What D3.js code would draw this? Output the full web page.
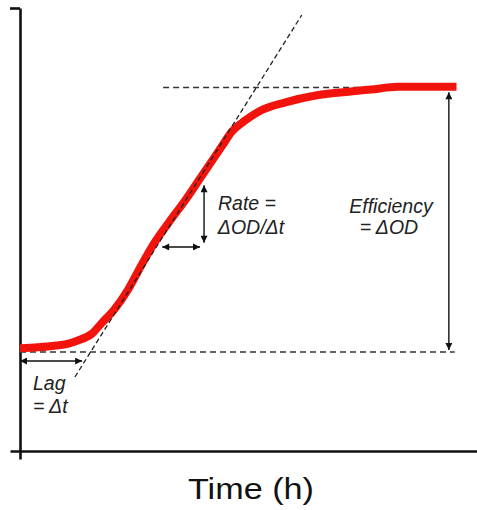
<!DOCTYPE html>
<html>
<head>
<meta charset="utf-8">
<script src="https://cdn.jsdelivr.net/npm/d3@7"></script>
<style>
  body { margin: 0; background: #fff; }
  svg { display: block; font-family: "Liberation Sans", Arial, sans-serif; }
</style>
</head>
<body>
<div id="chart"></div>
<script>
// growth curve (time in h, OD in arbitrary units)
const time = [0, 2, 4, 5.5, 6.5, 8, 9, 10.5, 12, 13.5, 15, 16.5, 18.5, 20, 21.5, 22.5, 23.5, 25, 26.5, 29.5, 33, 37, 39, 42, 48.5];
const od = [0.232, 0.234, 0.238, 0.243, 0.25, 0.265, 0.287, 0.32, 0.364, 0.42, 0.472, 0.515, 0.57, 0.615, 0.66, 0.69, 0.72, 0.746, 0.766, 0.787, 0.803, 0.812, 0.816, 0.822, 0.822];

// guide lines
const baseOD = 0.2235;
const plateauOD = 0.8205;
const plateauStart = 15.9;
const guideEnd = 48.3;
const tangentT = [6.1, 31.3];
const tangentOD = [0.167, 0.984];

// arrows: [t1, od1, t2, od2]
const lagArrow = [0, 0.203, 6.9, 0.203];
const rateRise = [20.45, 0.600, 20.45, 0.47];
const rateRun = [15.8, 0.4605, 20.0, 0.4605];
const effArrow = [47.65, 0.81, 47.65, 0.228];

const W = 477, H = 510;
const x = d3.scaleLinear().domain([0, 50]).range([20, 470]);
const y = d3.scaleLinear().domain([0, 1]).range([451, 8]);

const svg = d3.select('#chart').append('svg')
    .attr('width', W)
    .attr('height', H);

const defs = svg.append('defs');
defs.append('marker')
    .attr('id', 'arrow')
    .attr('viewBox', '0 0 10 10')
    .attr('refX', 10)
    .attr('refY', 5)
    .attr('markerWidth', 9)
    .attr('markerHeight', 7)
    .attr('markerUnits', 'userSpaceOnUse')
    .attr('orient', 'auto-start-reverse')
    .append('path')
    .attr('d', 'M0,0L10,5L0,10z')
    .attr('fill', '#111');

// axes, stretched a little past the origin like the original
const xAxisScale = d3.scaleLinear().domain([x.invert(10), x.invert(477)]).range([10, 477]);
const yAxisScale = d3.scaleLinear().domain([y.invert(459), 1]).range([459, 8]);

svg.append('g')
    .attr('transform', `translate(0,${y(0)})`)
    .call(d3.axisBottom(xAxisScale).tickValues([]).tickSizeOuter(0))
    .call(g => g.select('.domain').attr('stroke', '#111').attr('stroke-width', 2.6));

svg.append('g')
    .attr('transform', `translate(${x(0)},0)`)
    .call(d3.axisLeft(yAxisScale).tickValues([1]).tickSize(10).tickSizeOuter(0).tickFormat(''))
    .call(g => g.select('.domain').attr('stroke', '#111').attr('stroke-width', 2.6))
    .call(g => g.selectAll('.tick line').attr('stroke', '#111').attr('stroke-width', 2.6));

// dashed guides
const guides = svg.append('g')
    .attr('stroke', '#333')
    .attr('stroke-width', 1.5)
    .attr('stroke-dasharray', '6,4')
    .attr('fill', 'none');

guides.append('line')
    .attr('x1', x(0)).attr('x2', x(guideEnd))
    .attr('y1', y(baseOD)).attr('y2', y(baseOD));

guides.append('line')
    .attr('x1', x(plateauStart)).attr('x2', x(guideEnd))
    .attr('y1', y(plateauOD)).attr('y2', y(plateauOD));

// growth curve
const data = time.map((t, i) => ({ t: t, od: od[i] }));
const line = d3.line()
    .x(d => x(d.t))
    .y(d => y(d.od))
    .curve(d3.curveMonotoneX);

svg.append('path')
    .datum(data)
    .attr('d', line)
    .attr('fill', 'none')
    .attr('stroke', '#f2140c')
    .attr('stroke-width', 8)
    .attr('stroke-linejoin', 'round');

// tangent drawn on top of the curve
svg.append('line')
    .attr('x1', x(tangentT[0])).attr('y1', y(tangentOD[0]))
    .attr('x2', x(tangentT[1])).attr('y2', y(tangentOD[1]))
    .attr('stroke', '#222')
    .attr('stroke-width', 1.3)
    .attr('stroke-dasharray', '5,3');

// double headed arrows
[lagArrow, rateRise, rateRun, effArrow].forEach(a => {
    svg.append('line')
        .attr('x1', x(a[0])).attr('y1', y(a[1]))
        .attr('x2', x(a[2])).attr('y2', y(a[3]))
        .attr('stroke', '#111')
        .attr('stroke-width', 1.4)
        .attr('marker-start', 'url(#arrow)')
        .attr('marker-end', 'url(#arrow)');
});

// annotation labels
const notes = [
    { text: 'Lag', px: 33, py: 390, anchor: 'start' },
    { text: '= Δt', px: 33, py: 413, anchor: 'start' },
    { text: 'Rate =', px: 247, py: 210, anchor: 'middle' },
    { text: 'ΔOD/Δt', px: 251, py: 234, anchor: 'middle' },
    { text: 'Efficiency', px: 391, py: 213, anchor: 'middle' },
    { text: '= ΔOD', px: 389, py: 234, anchor: 'middle' }
];

svg.selectAll('.note')
    .data(notes)
    .enter()
    .append('text')
    .attr('class', 'note')
    .attr('x', d => d.px)
    .attr('y', d => d.py)
    .attr('text-anchor', d => d.anchor)
    .attr('font-size', '19.5px')
    .attr('font-style', 'italic')
    .attr('fill', '#222')
    .text(d => d.text);

// x axis title
svg.append('text')
    .attr('x', 251)
    .attr('y', 499)
    .attr('text-anchor', 'middle')
    .attr('font-size', '29px')
    .attr('textLength', 126)
    .attr('lengthAdjust', 'spacingAndGlyphs')
    .attr('fill', '#111')
    .text('Time (h)');
</script>
</body>
</html>
